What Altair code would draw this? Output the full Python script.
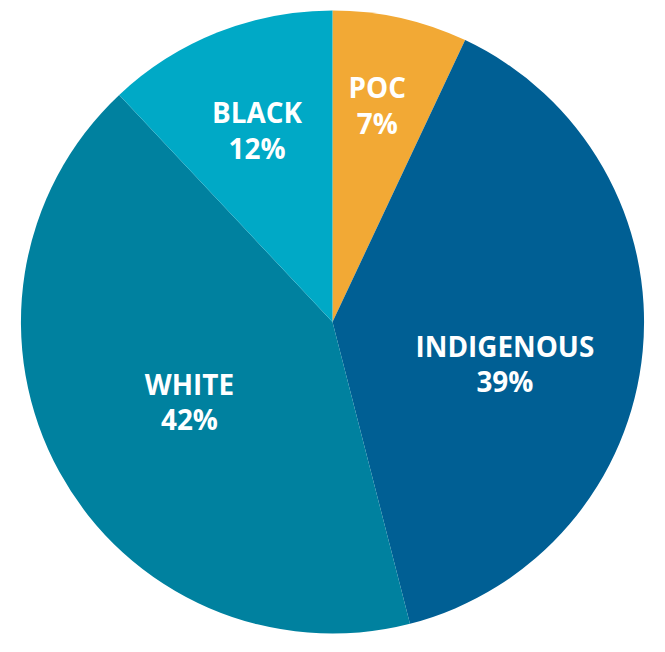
import altair as alt
import pandas as pd

groups = ["POC", "INDIGENOUS", "WHITE", "BLACK"]
shares = [7, 39, 42, 12]
colors = ["#F2A935", "#005F94", "#00819F", "#00A9C6"]

df = pd.DataFrame({
    "group": groups,
    "share": shares,
    "order": list(range(len(groups))),
})
df["label"] = df["group"] + "\n" + df["share"].astype(str) + "%"

base = alt.Chart(df).encode(
    theta=alt.Theta("share:Q", stack=True),
    order=alt.Order("order:Q"),
)

pie = base.mark_arc(outerRadius=313).encode(
    color=alt.Color("group:N", scale=alt.Scale(domain=groups, range=colors), legend=None)
)

label_style = dict(font="Open Sans", fontWeight="bold", fontSize=28, color="white",
                   lineBreak="\n", lineHeight=36, align="center", baseline="middle")

layers = [pie]
radii = {"POC": 220, "INDIGENOUS": 178, "WHITE": 164, "BLACK": 206}
dys = {"POC": -18, "INDIGENOUS": 10, "WHITE": -14, "BLACK": -16}
dxs = {"POC": -3, "INDIGENOUS": -4, "WHITE": 0, "BLACK": 0}
for g in groups:
    layers.append(
        base.mark_text(radius=radii[g], dy=dys[g], dx=dxs[g], **label_style)
        .encode(text="label:N",
                opacity=alt.condition(alt.datum.group == g, alt.value(1), alt.value(0)))
    )

chart = alt.layer(*layers).properties(
    width=652, height=628, padding=0, autosize="none"
).configure_view(stroke=None)

chart.save("out.html", embed_options={"renderer": "svg", "actions": False})
